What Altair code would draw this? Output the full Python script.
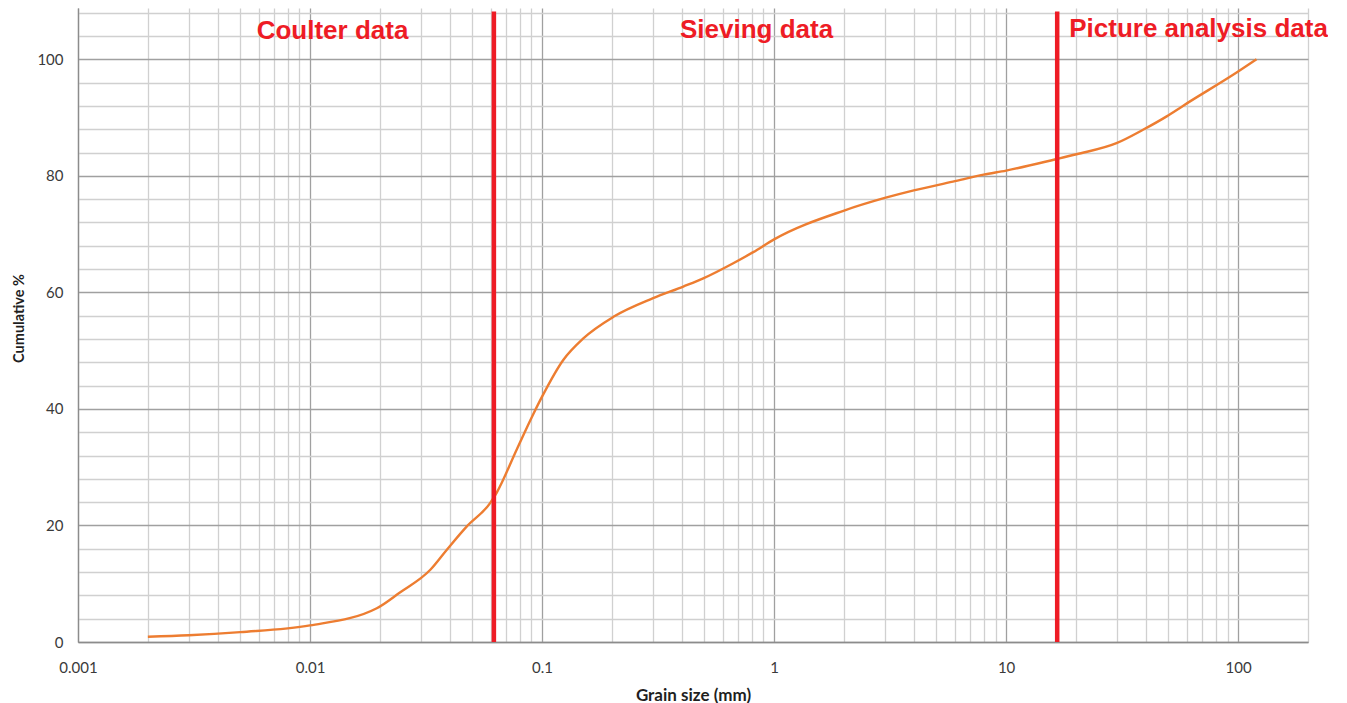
import altair as alt
import pandas as pd

# Cumulative grain-size curve
grain_mm = [0.002, 0.003, 0.005, 0.01, 0.0194, 0.0244, 0.033, 0.0388, 0.0473,
            0.0596, 0.0637, 0.0777, 0.0914, 0.1, 0.1234, 0.1506, 0.203, 0.301,
            0.406, 0.495, 0.667, 0.813, 1.0, 1.99, 3.0, 4.0, 5.9, 8.0, 10.0,
            16.2, 20.1, 29.9, 38.9, 49.2, 57.8, 100.0, 120.0]
cum_pct = [0.9, 1.15, 1.7, 2.85, 5.8, 8.5, 12.4, 15.8, 19.8,
           23.8, 25.6, 33.0, 39.0, 42.1, 48.4, 52.1, 55.8, 59.0,
           61.0, 62.4, 65.0, 66.9, 69.1, 74.0, 76.2, 77.5, 79.0, 80.2, 80.9,
           82.8, 83.7, 85.6, 87.9, 90.2, 92.0, 97.9, 100.0]

# Method boundaries (red lines)
boundary_mm = [0.062, 16.6]
boundary_bottom = [0, 0]
boundary_top = [108.2, 108.2]

# Region labels
label_text = ["Coulter data", "Sieving data", "Picture analysis data"]
label_x = [0.0125, 0.84, 67.5]
label_y = [103.4, 103.65, 103.8]

# Axis ticks / gridlines
x_ticks = [round(m * 10.0 ** e, 6) for e in range(-3, 3) for m in range(1, 10)] + [200]
y_ticks = list(range(0, 109, 4))

curve = pd.DataFrame({"x": grain_mm, "y": cum_pct})
bounds = pd.DataFrame({"x": boundary_mm, "y": boundary_bottom, "y2": boundary_top})
labels = pd.DataFrame({"x": label_x, "y": label_y, "t": label_text})

decade = "abs(log(datum.value)/LN10 - round(log(datum.value)/LN10)) < 0.001"

xscale = alt.Scale(type="log", domain=[0.001, 200], nice=False)
yscale = alt.Scale(domain=[0, 108.8], nice=False, zero=False)

xaxis = alt.Axis(
    values=x_ticks,
    labelExpr=f"({decade}) ? format(datum.value, '~g') : ''",
    gridColor={"condition": {"test": decade, "value": "#a0a0a0"}, "value": "#d0d0d0"},
    gridWidth=1.3,
    ticks=False,
    domainColor="#8c8c8c",
    domainWidth=1.3,
    labelFont="Lato",
    labelFontSize=15,
    labelColor="#3a3a3a",
    labelPadding=18,
    labelFlush=False,
    labelOverlap=False,
    title="Grain size (mm)",
    titleFont="Lato",
    titleFontSize=17,
    titleFontWeight="bold",
    titleColor="#1f1f1f",
    titleBaseline="alphabetic",
    titleY=58,
)

yaxis = alt.Axis(
    values=y_ticks,
    labelExpr="(datum.value % 20 == 0 && datum.value <= 100) ? datum.label : ''",
    gridColor={"condition": {"test": "datum.value % 20 == 0", "value": "#a0a0a0"}, "value": "#d0d0d0"},
    gridWidth=1.3,
    ticks=False,
    domainColor="#8c8c8c",
    domainWidth=1.3,
    labelFont="Lato",
    labelFontSize=15,
    labelColor="#3a3a3a",
    labelPadding=15,
    labelOverlap=False,
    title="Cumulative %",
    titleFont="Lato",
    titleFontSize=14.5,
    titleFontWeight="bold",
    titleColor="#1f1f1f",
    titleBaseline="middle",
    titleX=-59,
    titleY=310,
)

X = alt.X("x:Q", scale=xscale, axis=xaxis)
Y = alt.Y("y:Q", scale=yscale, axis=yaxis)

line = alt.Chart(curve).mark_line(
    color="#ED7D31", strokeWidth=2.4, interpolate="monotone"
).encode(x=X, y=Y)

rules = alt.Chart(bounds).mark_rule(color="#EE1C25", strokeWidth=4.5).encode(
    x=X, y=Y, y2="y2:Q"
)

texts = alt.Chart(labels).mark_text(
    font="Liberation Sans", fontWeight="bold", fontSize=26, color="#EE1C25",
    align="center", baseline="alphabetic"
).encode(x=X, y=Y, text="t:N")

chart = alt.layer(line, rules, texts).properties(
    width=1230,
    height=634,
    padding={"left": 70, "top": 0, "right": 20, "bottom": 62},
    autosize=alt.AutoSizeParams(type="none"),
    background="white",
).configure_view(stroke=None)

chart.save("out.html", embed_options={"renderer": "svg", "actions": False})
